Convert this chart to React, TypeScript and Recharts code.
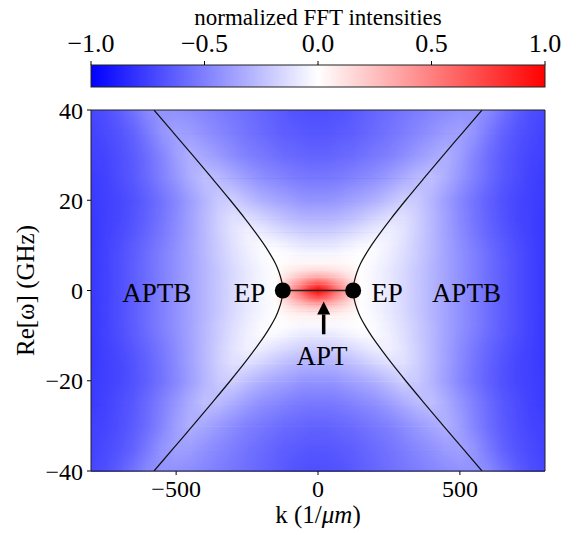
import React from 'react';
import { ComposedChart, XAxis, YAxis, ReferenceArea, Scatter } from 'recharts';

const FONT = '"Liberation Serif", "Times New Roman", Times, serif';

// ---- colour bar ----
const barTicks = [-1, -0.5, 0, 0.5, 1];
const barTitle = 'normalized FFT intensities';

// ---- axes ----
const kTicks = [-500, 0, 500];
const wTicks = [-40, -20, 0, 20, 40];
const xTitle = 'k (1/';
const xTitleItalic = 'μm';
const yTitle = 'Re[ω] (GHz)';

// ---- heat map, read for one quadrant (k >= 0, w >= 0); the picture is mirror symmetric ----
const kCols = [0, 30, 60, 90, 120, 150, 200, 250, 300, 350, 400, 450, 500, 550, 600, 650, 700, 750, 800];
const wRows = [0, 1.5, 3, 4.5, 6, 8, 10, 13, 16, 20, 25, 30, 35, 40];
const rowW0 = [1.0, 0.85, 0.62, 0.42, 0.22, 0.0, -0.04, -0.09, -0.15, -0.22, -0.29, -0.36, -0.43, -0.5, -0.57, -0.63, -0.69, -0.74, -0.78];
const rowW1 = [0.68, 0.6, 0.45, 0.32, 0.18, 0.0, -0.04, -0.09, -0.15, -0.22, -0.29, -0.36, -0.43, -0.5, -0.57, -0.63, -0.69, -0.74, -0.78];
const rowW3 = [0.34, 0.31, 0.25, 0.18, 0.1, 0.01, -0.04, -0.09, -0.15, -0.22, -0.29, -0.36, -0.43, -0.5, -0.57, -0.63, -0.69, -0.74, -0.78];
const rowW4 = [0.14, 0.13, 0.11, 0.08, 0.05, 0.0, -0.04, -0.09, -0.15, -0.22, -0.29, -0.36, -0.43, -0.5, -0.57, -0.63, -0.69, -0.74, -0.78];
const rowW6 = [0.04, 0.04, 0.04, 0.03, 0.02, 0.0, -0.03, -0.08, -0.14, -0.21, -0.29, -0.36, -0.43, -0.5, -0.57, -0.63, -0.69, -0.74, -0.78];
const rowW8 = [-0.03, -0.03, -0.03, -0.02, -0.01, 0.0, -0.02, -0.07, -0.13, -0.2, -0.28, -0.36, -0.43, -0.5, -0.57, -0.64, -0.69, -0.74, -0.78];
const rowW10 = [-0.1, -0.1, -0.09, -0.07, -0.05, -0.03, -0.02, -0.06, -0.12, -0.2, -0.28, -0.36, -0.44, -0.51, -0.58, -0.64, -0.7, -0.74, -0.78];
const rowW13 = [-0.2, -0.2, -0.19, -0.17, -0.15, -0.12, -0.08, -0.06, -0.11, -0.19, -0.28, -0.37, -0.45, -0.53, -0.6, -0.66, -0.71, -0.75, -0.78];
const rowW16 = [-0.3, -0.3, -0.29, -0.27, -0.25, -0.22, -0.17, -0.12, -0.12, -0.19, -0.28, -0.37, -0.46, -0.54, -0.61, -0.67, -0.72, -0.75, -0.78];
const rowW20 = [-0.42, -0.42, -0.41, -0.39, -0.37, -0.35, -0.31, -0.25, -0.19, -0.21, -0.29, -0.38, -0.47, -0.55, -0.62, -0.68, -0.72, -0.75, -0.77];
const rowW25 = [-0.53, -0.53, -0.52, -0.51, -0.49, -0.47, -0.44, -0.39, -0.33, -0.27, -0.25, -0.32, -0.41, -0.5, -0.58, -0.65, -0.7, -0.74, -0.77];
const rowW30 = [-0.61, -0.61, -0.6, -0.59, -0.58, -0.56, -0.53, -0.5, -0.45, -0.4, -0.35, -0.31, -0.38, -0.48, -0.57, -0.64, -0.69, -0.73, -0.75];
const rowW35 = [-0.66, -0.66, -0.65, -0.64, -0.63, -0.61, -0.58, -0.55, -0.51, -0.47, -0.43, -0.39, -0.37, -0.42, -0.52, -0.61, -0.67, -0.71, -0.74];
const rowW40 = [-0.69, -0.69, -0.68, -0.67, -0.65, -0.63, -0.6, -0.57, -0.54, -0.51, -0.48, -0.45, -0.43, -0.42, -0.46, -0.55, -0.63, -0.69, -0.72];
const intensityRows = [rowW0, rowW1, rowW3, rowW4, rowW6, rowW8, rowW10, rowW13, rowW16, rowW20, rowW25, rowW30, rowW35, rowW40];

// ---- dispersion branches ----
const leftBranch = [
  { k: -578, w: 40 }, { k: -510, w: 35 }, { k: -442, w: 30 }, { k: -375, w: 25 }, { k: -309, w: 20 },
  { k: -258, w: 16 }, { k: -222, w: 13 }, { k: -188, w: 10 }, { k: -168, w: 8 }, { k: -150, w: 6 },
  { k: -137, w: 4 }, { k: -128, w: 2 }, { k: -124, w: 0 }, { k: -128, w: -2 }, { k: -137, w: -4 },
  { k: -150, w: -6 }, { k: -168, w: -8 }, { k: -188, w: -10 }, { k: -222, w: -13 }, { k: -258, w: -16 },
  { k: -309, w: -20 }, { k: -375, w: -25 }, { k: -442, w: -30 }, { k: -510, w: -35 }, { k: -578, w: -40 },
];
const rightBranch = [
  { k: 578, w: 40 }, { k: 510, w: 35 }, { k: 442, w: 30 }, { k: 375, w: 25 }, { k: 309, w: 20 },
  { k: 258, w: 16 }, { k: 222, w: 13 }, { k: 188, w: 10 }, { k: 168, w: 8 }, { k: 150, w: 6 },
  { k: 137, w: 4 }, { k: 128, w: 2 }, { k: 124, w: 0 }, { k: 128, w: -2 }, { k: 137, w: -4 },
  { k: 150, w: -6 }, { k: 168, w: -8 }, { k: 188, w: -10 }, { k: 222, w: -13 }, { k: 258, w: -16 },
  { k: 309, w: -20 }, { k: 375, w: -25 }, { k: 442, w: -30 }, { k: 510, w: -35 }, { k: 578, w: -40 },
];
const aptSegment = [{ k: -124, w: 0 }, { k: 124, w: 0 }];
const epPoints = [{ k: -124, w: 0 }, { k: 124, w: 0 }];
const arrowPoints = [{ k: 20, w: -9.7, head: false }, { k: 20, w: -5.3, head: true }];
const textLabels = [
  { k: -568, w: -2.6, text: 'APTB' },
  { k: -241, w: -2.6, text: 'EP' },
  { k: 243, w: -2.6, text: 'EP' },
  { k: 523, w: -2.6, text: 'APTB' },
  { k: 14, w: -16.6, text: 'APT' },
];

// ---- helpers ----
const bwr = (v: number) => {
  const t = Math.max(-1, Math.min(1, v));
  if (t < 0) {
    const c = Math.round(255 * (1 + t));
    return `rgb(${c},${c},255)`;
  }
  const c = Math.round(255 * (1 - t));
  return `rgb(255,${c},${c})`;
};

const kFull = [...kCols.slice(1).reverse().map((k) => -k), ...kCols];
const fullRow = (vals: number[]) => [...vals.slice(1).reverse(), ...vals];
const wFull = [...wRows.slice(1).reverse().map((w) => -w), ...wRows];
const rowFor = (w: number) => fullRow(intensityRows[wRows.indexOf(Math.abs(w))]);
const K0 = kFull[0];
const KSPAN = kFull[kFull.length - 1] - kFull[0];

const minusFmt = (v: number) => (v < 0 ? `\u2212${Math.abs(v)}` : `${v}`);
const barFmt = (v: number) => (v < 0 ? `\u2212${Math.abs(v).toFixed(1)}` : v.toFixed(1));

const gradientStops = (vals: number[]) =>
  kFull.map((k, i) => <stop key={i} offset={(k - K0) / KSPAN} stopColor={bwr(vals[i])} />);

// one band between two read rows: the upper row's colours fade into the lower row's (vertical blend)
const bandShape = (j: number) => (p: any) => {
  const { x, y, width, height } = p;
  const upper = rowFor(wFull[j + 1]);
  const lower = rowFor(wFull[j]);
  const ga = `hbA${j}`;
  const gb = `hbB${j}`;
  const gm = `hbM${j}`;
  const gr = `hbR${j}`;
  const h = height + 0.8;
  return (
    <g>
      <defs>
        <linearGradient id={ga} gradientUnits="userSpaceOnUse" x1={x} y1={0} x2={x + width} y2={0}>{gradientStops(upper)}</linearGradient>
        <linearGradient id={gb} gradientUnits="userSpaceOnUse" x1={x} y1={0} x2={x + width} y2={0}>{gradientStops(lower)}</linearGradient>
        <linearGradient id={gr} gradientUnits="userSpaceOnUse" x1={0} y1={y} x2={0} y2={y + height}>
          <stop offset={0} stopColor="#ffffff" stopOpacity={0} />
          <stop offset={1} stopColor="#ffffff" stopOpacity={1} />
        </linearGradient>
        <mask id={gm} maskUnits="userSpaceOnUse" maskContentUnits="userSpaceOnUse" x={x - 1} y={y - 1} width={width + 2} height={h + 2}>
          <rect x={x - 1} y={y - 1} width={width + 2} height={h + 2} fill={`url(#${gr})`} />
        </mask>
      </defs>
      <rect x={x} y={y} width={width} height={h} fill={`url(#${ga})`} />
      <rect x={x} y={y} width={width} height={h} fill={`url(#${gb})`} mask={`url(#${gm})`} />
    </g>
  );
};

const colorBarShape = (p: any) => {
  const { x, y, width, height } = p;
  return (
    <g>
      <defs>
        <linearGradient id="cbar" x1="0" y1="0" x2="1" y2="0">
          <stop offset={0} stopColor="rgb(0,0,255)" />
          <stop offset={0.5} stopColor="rgb(255,255,255)" />
          <stop offset={1} stopColor="rgb(255,0,0)" />
        </linearGradient>
      </defs>
      <rect x={x} y={y} width={width} height={height} fill="url(#cbar)" stroke="#222" strokeWidth={1} />
    </g>
  );
};

const nothing = () => <g />;

const App = () => {
  const tickStyle = { fontSize: 24, fill: '#000', fontFamily: FONT };
  return (
    <div style={{ position: 'relative', width: 580, height: 535, background: '#fff' }}>
      <style>{`body{margin:0}`}</style>
      <div style={{ position: 'absolute', left: 0, top: 0 }}>
        <ComposedChart width={580} height={100} margin={{ top: 0, right: 35, bottom: 13, left: 91 }} data={[{ c: -1, y: 0 }, { c: 1, y: 1 }]}>
          <XAxis
            xAxisId="c"
            type="number"
            dataKey="c"
            orientation="top"
            domain={[-1, 1]}
            ticks={barTicks}
            tickFormatter={barFmt}
            allowDataOverflow
            height={65}
            tickSize={4}
            tickMargin={9}
            axisLine={false}
            tickLine={{ stroke: '#000' }}
            tick={{ fontSize: 26, fill: '#000', fontFamily: FONT }}
            label={(lp: any) => {
              const vb = lp.viewBox || {};
              return (
                <text x={vb.x + vb.width / 2} y={vb.y + 25} textAnchor="middle" fontSize={23} fontFamily={FONT} fill="#000">
                  {barTitle}
                </text>
              );
            }}
          />
          <YAxis yAxisId="c" type="number" dataKey="y" domain={[0, 1]} hide />
          <ReferenceArea xAxisId="c" yAxisId="c" x1={-1} x2={1} y1={0} y2={1} ifOverflow="visible" shape={colorBarShape} />
        </ComposedChart>
      </div>
      <div style={{ position: 'absolute', left: 0, top: 0 }}>
        <ComposedChart width={580} height={535} margin={{ top: 110, right: 35, bottom: 14, left: 31 }}>
          <XAxis
            type="number"
            dataKey="k"
            domain={[-800, 800]}
            ticks={kTicks}
            tickFormatter={minusFmt}
            allowDataOverflow
            height={50}
            tickSize={4}
            tickMargin={5}
            axisLine={false}
            tickLine={{ stroke: '#000' }}
            tick={tickStyle}
            label={(lp: any) => {
              const vb = lp.viewBox || {};
              return (
                <text x={vb.x + vb.width / 2} y={vb.y + 51.5} textAnchor="middle" fontSize={25} fontFamily={FONT} fill="#000">
                  {xTitle}
                  <tspan fontStyle="italic">{xTitleItalic}</tspan>
                  {')'}
                </text>
              );
            }}
          />
          <YAxis
            type="number"
            dataKey="w"
            domain={[-40, 40]}
            ticks={wTicks}
            tickFormatter={minusFmt}
            allowDataOverflow
            width={60}
            tickSize={4}
            tickMargin={4}
            axisLine={false}
            tickLine={{ stroke: '#000' }}
            tick={tickStyle}
            label={(lp: any) => {
              const vb = lp.viewBox || {};
              const cx = vb.x + 2.5;
              const cy = vb.y + vb.height / 2;
              return (
                <text x={cx} y={cy} transform={`rotate(-90, ${cx}, ${cy})`} textAnchor="middle" fontSize={25} fontFamily={FONT} fill="#000">
                  {yTitle}
                </text>
              );
            }}
          />
          {wFull.slice(0, -1).map((w, j) => (
            <ReferenceArea
              key={`band${j}`}
              x1={kFull[0]}
              x2={kFull[kFull.length - 1]}
              y1={w}
              y2={wFull[j + 1]}
              ifOverflow="hidden"
              shape={bandShape(j)}
            />
          ))}
          <Scatter data={leftBranch} fill="#000" line={{ stroke: '#111', strokeWidth: 1.2 }} lineJointType="monotoneY" shape={nothing} isAnimationActive={false} />
          <Scatter data={rightBranch} fill="#000" line={{ stroke: '#111', strokeWidth: 1.2 }} lineJointType="monotoneY" shape={nothing} isAnimationActive={false} />
          <Scatter data={aptSegment} fill="#000" line={{ stroke: '#222', strokeWidth: 1.5 }} shape={nothing} isAnimationActive={false} />
          <Scatter
            data={epPoints}
            fill="#000"
            isAnimationActive={false}
            shape={(p: any) => <circle cx={p.cx} cy={p.cy} r={8} fill="#000" />}
          />
          <Scatter
            data={arrowPoints}
            fill="#000"
            line={{ stroke: '#000', strokeWidth: 3.5 }}
            isAnimationActive={false}
            shape={(p: any) =>
              p.payload && p.payload.head ? (
                <polygon points={`${p.cx},${p.cy - 13} ${p.cx - 6.5},${p.cy} ${p.cx + 6.5},${p.cy}`} fill="#000" />
              ) : (
                <g />
              )
            }
          />
          <Scatter
            data={textLabels}
            fill="#000"
            isAnimationActive={false}
            shape={(p: any) => (
              <text x={p.cx} y={p.cy} textAnchor="middle" fontSize={27} fontFamily={FONT} fill="#000">
                {p.payload ? p.payload.text : ''}
              </text>
            )}
          />
          <ReferenceArea x1={-800} x2={800} y1={-40} y2={40} ifOverflow="visible" fill="none" fillOpacity={0} stroke="#222" strokeWidth={1} zIndex={650} />
        </ComposedChart>
      </div>
    </div>
  );
};

export default App;
